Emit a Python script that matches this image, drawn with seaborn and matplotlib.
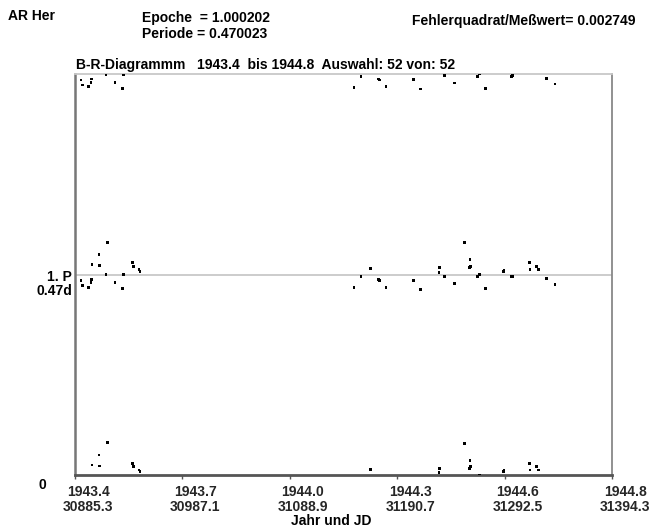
import numpy as np
import pandas as pd
import matplotlib
matplotlib.use("Agg")
import matplotlib.pyplot as plt
import matplotlib.transforms as mtransforms
import seaborn as sns

sns.set_theme(style="white")
plt.rcParams['font.family'] = ['Liberation Sans', 'DejaVu Sans']

# ---- data ----
period = 0.470023
jd = [30891.0, 30892.6, 30897.9, 30900.5, 30901.1, 30901.4, 30908.0, 30908.3,
      30916.3, 30914.7, 30923.2, 30930.5, 30931.1, 30940.0, 30940.6, 30946.0,
      30946.9, 31149.8, 31156.4, 31165.2, 31173.2, 31174.1, 31180.0, 31206.0,
      31212.6, 31230.3, 31230.6, 31235.4, 31244.8, 31254.3, 31259.7, 31260.4,
      31259.2, 31267.0, 31268.5, 31274.2, 31291.3, 31291.9, 31299.2, 31300.2,
      31316.0, 31316.6, 31322.9, 31324.8, 31332.0, 31340.3]
resid = [-0.0141, -0.0259, -0.0298, -0.0195, -0.0118, 0.0235, 0.0470, 0.0212,
         0.0759, -0.0007, -0.0195, -0.0336, -0.0007, 0.0275, 0.0195, 0.0118,
         0.0078, -0.0313, -0.0054, 0.0134, -0.0118, -0.0141, -0.0298, -0.0134,
         -0.0353, 0.0054, 0.0157, -0.0040, -0.0212, 0.0745, 0.0345, 0.0195,
         0.0157, -0.0054, 0.0000, -0.0336, 0.0078, 0.0101, -0.0054, -0.0040,
         0.0275, 0.0118, 0.0195, 0.0118, -0.0101, -0.0235]
tick_jd = [30885.3, 30987.1, 31088.9, 31190.7, 31292.5, 31394.3]
tick_year = ["1943.4", "1943.7", "1944.0", "1944.3", "1944.6", "1944.8"]

rows = []
for j, r in zip(jd, resid):
    for k in range(3):
        y = r + k * period
        if 0 <= y <= 2 * period:
            rows.append((j, y))
df = pd.DataFrame(rows, columns=["jd", "y"])

W, H = 653, 529
fig = plt.figure(figsize=(W / 100, H / 100), dpi=100)
L, R, T, B = 75, 612, 74, 475
ax = fig.add_axes([L / W, 1 - B / H, (R - L) / W, (B - T) / H])

ax.axhline(period, color="#c8c8c8", lw=1.3, zorder=1)
sns.scatterplot(data=df, x="jd", y="y", ax=ax, marker="s", s=4, color="black",
                edgecolor="none", linewidth=0, zorder=3, legend=False)

ax.set_xlim(tick_jd[0], tick_jd[-1])
ax.set_ylim(0, 2 * period)
ax.set_xlabel("")
ax.set_ylabel("")
ax.set_yticks([])
ax.set_xticks(tick_jd)
ax.set_xticklabels([f"{y}\n{j:.1f}" for y, j in zip(tick_year, tick_jd)],
                   fontsize=10, fontweight="bold", linespacing=1.15)
ax.tick_params(axis="x", length=3, width=1, color="#555555", pad=4, bottom=True)
off = mtransforms.ScaledTranslation(13 / 100, 0, fig.dpi_scale_trans)
for lab in ax.get_xticklabels():
    lab.set_transform(lab.get_transform() + off)

ax.spines["top"].set_color("#c8c8c8")
ax.spines["top"].set_linewidth(1.3)
ax.spines["right"].set_color("#888888")
ax.spines["right"].set_linewidth(1.3)
ax.spines["left"].set_color("#777777")
ax.spines["left"].set_linewidth(1.8)
ax.spines["bottom"].set_color("#555555")
ax.spines["bottom"].set_linewidth(2)

fw = dict(fontweight="bold", color="black", fontsize=10)
fig.text(8 / W, 1 - 16 / H, "AR Her", va="center", **fw)
fig.text(142 / W, 1 - 18 / H, "Epoche  = 1.000202", va="center", **fw)
fig.text(142 / W, 1 - 34 / H, "Periode = 0.470023", va="center", **fw)
fig.text(412 / W, 1 - 21 / H, "Fehlerquadrat/Meßwert= 0.002749", va="center", **fw)
fig.text(76 / W, 1 - 65 / H, "B-R-Diagrammm   1943.4  bis 1944.8  Auswahl: 52 von: 52",
         va="center", **fw)
fig.text(72 / W, 1 - 277 / H, "1. P", ha="right", va="center", **fw)
fig.text(72 / W, 1 - 291 / H, "0.47d", ha="right", va="center", **fw)
fig.text(42 / W, 1 - 485 / H, "0", ha="center", va="center", **fw)
fig.text(331 / W, 1 - 521 / H, "Jahr und JD", ha="center", va="center", **fw)

fig.savefig("out.png", dpi=100, facecolor="white")
